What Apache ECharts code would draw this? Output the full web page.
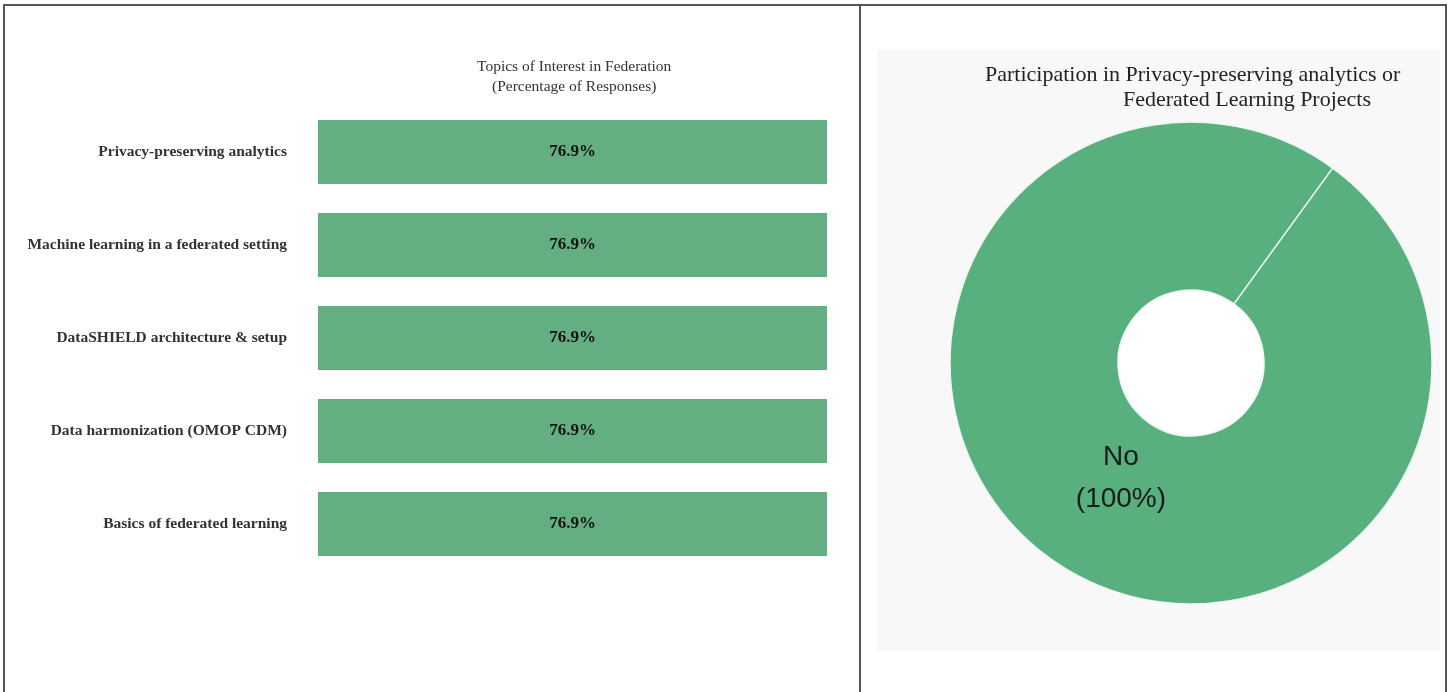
<!DOCTYPE html>
<html>
<head>
<meta charset="utf-8">
<script src="https://cdn.jsdelivr.net/npm/echarts@6/dist/echarts.min.js"></script>
<style>
html,body{margin:0;padding:0;background:#fff;}
#c{width:1454px;height:692px;}
</style>
</head>
<body>
<div id="c"></div>
<script>
// ---- data ----
const topics = [
  'Privacy-preserving analytics',
  'Machine learning in a federated setting',
  'DataSHIELD architecture & setup',
  'Data harmonization (OMOP CDM)',
  'Basics of federated learning'
];
const topicPercents = [76.9, 76.9, 76.9, 76.9, 76.9];
const participationLabels = ['No', 'Yes'];
const participationPercents = [100, 0];

const chart = echarts.init(document.getElementById('c'), null, {renderer: 'canvas'});
const serif = '"Liberation Serif", "Times New Roman", serif';
const sans = '"Liberation Sans", Arial, sans-serif';

chart.setOption({
  animation: false,
  backgroundColor: '#ffffff',
  graphic: [
    {type: 'rect', z: -10, shape: {x: 877, y: 50, width: 563, height: 601}, style: {fill: '#f8f8f8'}},
    {type: 'circle', z: -5, shape: {cx: 1191, cy: 363, r: 74}, style: {fill: '#ffffff'}},
    {type: 'rect', z: 100, shape: {x: 4, y: 5, width: 1442, height: 700}, style: {fill: null, stroke: '#555', lineWidth: 2}},
    {type: 'line', z: 100, shape: {x1: 860, y1: 5, x2: 860, y2: 700}, style: {stroke: '#555', lineWidth: 2}}
  ],
  title: [
    {text: 'Topics of Interest in Federation', left: 472, top: 54,
     textStyle: {fontFamily: serif, fontSize: 15.5, fontWeight: 'normal', color: '#333'}},
    {text: '(Percentage of Responses)', left: 487, top: 74,
     textStyle: {fontFamily: serif, fontSize: 15.5, fontWeight: 'normal', color: '#333'}},
    {text: 'Participation in Privacy-preserving analytics or', left: 980, top: 59,
     textStyle: {fontFamily: serif, fontSize: 22, fontWeight: 'normal', color: '#222'}},
    {text: 'Federated Learning Projects', left: 1118, top: 84,
     textStyle: {fontFamily: serif, fontSize: 22, fontWeight: 'normal', color: '#222'}}
  ],
  grid: {left: 318, width: 509, top: 105.5, height: 465, containLabel: false},
  xAxis: {type: 'value', min: 0, max: 76.9, show: false},
  yAxis: {
    type: 'category', data: topics, inverse: true,
    axisLine: {show: false}, axisTick: {show: false}, splitLine: {show: false},
    axisLabel: {margin: 31, fontFamily: serif, fontSize: 15.5, fontWeight: 'bold', color: '#333'}
  },
  series: [
    {
      type: 'bar', data: topicPercents, barCategoryGap: '31%',
      itemStyle: {color: '#63af81'},
      label: {show: true, position: 'inside', formatter: p => p.value.toFixed(1) + '%',
        fontFamily: serif, fontSize: 17, fontWeight: 'bold', color: '#111'}
    },
    {
      type: 'pie', center: [1191, 363], radius: [73, 241], startAngle: 54,
      clockwise: true, avoidLabelOverlap: false,
      data: participationLabels.map((n, i) => ({name: n, value: participationPercents[i],
        label: {show: participationPercents[i] > 0}})),
      itemStyle: {color: '#58b07f', borderColor: '#eef7f1', borderWidth: 1.5},
      label: {position: 'inside', formatter: p => p.name + '\n(' + p.value + '%)',
        fontFamily: sans, fontSize: 28, lineHeight: 42, color: '#1a1a1a', offset: [24, -14]},
      labelLine: {show: false},
      emphasis: {disabled: true}
    }
  ]
});
</script>
</body>
</html>
